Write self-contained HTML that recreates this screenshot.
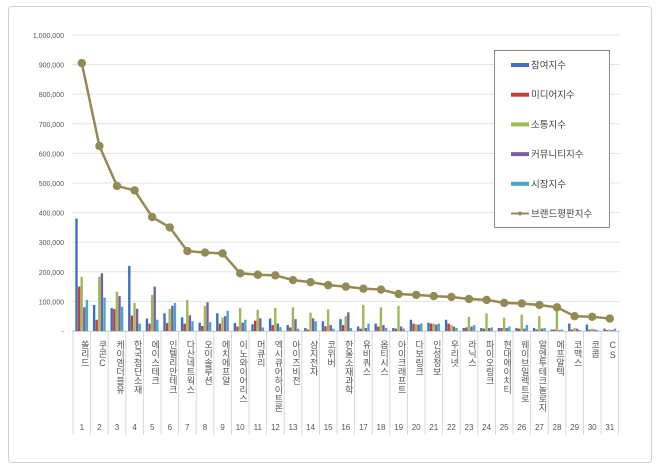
<!DOCTYPE html>
<html><head><meta charset="utf-8"><style>
body{margin:0;background:#fff;width:660px;height:470px;overflow:hidden;font-family:"Liberation Sans","Noto Sans CJK KR",sans-serif}
</style></head><body>
<svg id="s" width="660" height="470" xmlns="http://www.w3.org/2000/svg" font-family="Liberation Sans, Noto Sans CJK KR, sans-serif"></svg>
<script>
var s=document.getElementById('s'),h='';
h+='<rect x="8.5" y="6.5" width="643" height="456" rx="3" fill="#fff" stroke="#d0d0d0"/>';
var y0=331,k=0.000296,x0=73,w=17.6;
for(var i=0;i<=10;i++){var y=y0-i*29.6;
 h+='<line x1="72" x2="620" y1="'+y+'" y2="'+y+'" stroke="#e3e3e3"/>';
 h+='<text x="64" y="'+(y+3)+'" font-size="7" fill="#555" text-anchor="end">'+(i==0?'-':(i*100000).toLocaleString('en-US'))+'</text>';}
var names=["쏠리드","쿠콘C","케이엠더블유","한국첨단소재","에이스테크","인텔리안테크","다산네트웍스","오이솔루션","에치에프알","이노와이어리스","머큐리","엑시큐어하이트론","아이즈비전","삼지전자","코위버","한울소재과학","유비쿼스","옵티시스","아이크래프트","다보링크","인성정보","우리넷","라닉스","파이오링크","현대에이치티","웨이브일렉트로","알엔투테크놀로지","에프알텍","코맥스","코콤","CS"];
var d=[[380,150,183,80,105],[88,38,183,195,113],[78,74,133,118,82],[220,52,95,75,25],[42,25,122,150,38],[60,27,75,85,95],[46,25,105,53,33],[28,17,85,97,30],[60,25,45,50,68],[27,15,78,28,38],[23,35,72,43,12],[42,20,78,25,13],[20,12,80,40,8],[10,5,62,43,33],[33,16,73,20,8],[40,20,50,63,10],[15,8,88,10,25],[25,15,80,20,10],[10,8,85,15,8],[38,25,22,22,25],[28,25,25,22,25],[38,25,20,15,10],[10,12,48,15,20],[10,8,60,10,12],[10,10,45,10,15],[10,8,55,8,20],[10,5,50,8,10],[5,5,75,3,5],[25,5,10,8,3],[22,5,8,5,3],[8,3,5,3,8]];
var b=[905,625,490,475,385,350,270,265,262,195,190,188,172,165,155,150,143,140,125,122,118,115,108,105,95,93,88,80,50,48,42];
var c=["#3d70c0","#c0413b","#9bbb59","#7d5fa0","#46a9c8"];
for(var i=0;i<=31;i++){var x=x0+i*w;h+='<line x1="'+x+'" x2="'+x+'" y1="331" y2="435" stroke="#d8d8d8"/>';}
h+='<line x1="72" x2="620" y1="331.5" y2="331.5" stroke="#d0d0d0"/>';
var pts=[];
for(var i=0;i<31;i++){var cx=x0+i*w+w/2;
 for(var j=0;j<5;j++){var v=d[i][j]*1000*k;h+='<rect x="'+(cx-6.5+j*2.6)+'" y="'+(y0-v)+'" width="2.4" height="'+v+'" fill="'+c[j]+'"/>';}
 pts.push(cx+','+(y0-b[i]*1000*k));
 h+='<text x="'+cx+'" y="430" font-size="8" fill="#555" text-anchor="middle">'+(i+1)+'</text>';
 h+='<text x="'+(cx+3)+'" y="340" font-size="9" fill="#555" style="writing-mode:vertical-rl;text-orientation:upright">'+names[i]+'</text>';}
h+='<polyline points="'+pts.join(' ')+'" fill="none" stroke="#948a54" stroke-width="2.5"/>';
pts.forEach(function(p){var a=p.split(',');h+='<circle cx="'+a[0]+'" cy="'+a[1]+'" r="4.2" fill="#948a54"/>';});
h+='<rect x="494.5" y="50.5" width="115" height="177" fill="#fff" stroke="#888"/>';
var L=["참여지수","미디어지수","소통지수","커뮤니티지수","시장지수","브랜드평판지수"];
for(var j=0;j<6;j++){var y=65+j*29.7;
 if(j<5)h+='<rect x="511" y="'+(y-2)+'" width="18" height="4" fill="'+c[j]+'"/>';
 else{h+='<line x1="511" x2="529" y1="'+y+'" y2="'+y+'" stroke="#948a54" stroke-width="2"/><circle cx="520" cy="'+y+'" r="2" fill="#948a54"/>';}
 h+='<text x="531" y="'+(y+3.5)+'" font-size="9.5" fill="#444">'+L[j]+'</text>';}
s.innerHTML=h;
</script>
</body></html>
